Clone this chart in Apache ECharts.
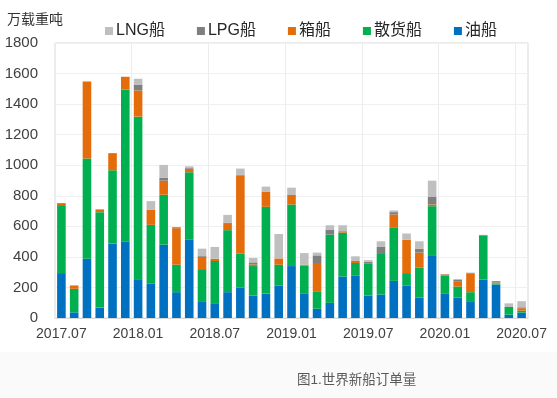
<!DOCTYPE html>
<html>
<head>
<meta charset="utf-8">
<script src="https://cdn.jsdelivr.net/npm/echarts@6/dist/echarts.min.js"></script>
<style>
  html, body { margin: 0; padding: 0; background: #fff; }
  #chart { width: 557px; height: 398px; }
</style>
</head>
<body>
<div id="chart"></div>
<script>
// months on the x axis
var months = [
  "2017.07", "2017.08", "2017.09", "2017.10", "2017.11", "2017.12",
  "2018.01", "2018.02", "2018.03", "2018.04", "2018.05", "2018.06",
  "2018.07", "2018.08", "2018.09", "2018.10", "2018.11", "2018.12",
  "2019.01", "2019.02", "2019.03", "2019.04", "2019.05", "2019.06",
  "2019.07", "2019.08", "2019.09", "2019.10", "2019.11", "2019.12",
  "2020.01", "2020.02", "2020.03", "2020.04", "2020.05", "2020.06",
  "2020.07"
];
var yTicks = [0, 200, 400, 600, 800, 1000, 1200, 1400, 1600, 1800];

// 万载重吨, per ship type
var oil = [294, 37, 388, 68, 487, 502, 254, 224, 480, 169, 515, 105, 92, 169, 200, 147, 160, 213, 340, 158, 61, 99, 272, 276, 147, 154, 243, 211, 134, 406, 158, 134, 110, 252, 219, 22, 35];
var bulk = [445, 154, 656, 625, 480, 994, 1064, 386, 327, 180, 439, 215, 281, 406, 223, 193, 568, 136, 403, 184, 110, 447, 287, 84, 208, 265, 347, 83, 197, 326, 120, 72, 59, 287, 7, 50, 13];
var container = [13, 22, 504, 18, 112, 83, 171, 98, 92, 239, 22, 81, 15, 41, 509, 11, 97, 41, 62, 7, 189, 0, 9, 13, 0, 0, 88, 219, 97, 11, 7, 35, 123, 0, 6, 0, 16];
var lpg = [0, 0, 0, 0, 0, 0, 39, 0, 18, 6, 5, 8, 0, 7, 7, 13, 0, 0, 0, 0, 50, 33, 0, 0, 13, 46, 15, 0, 26, 49, 2, 11, 4, 5, 9, 0, 6];
var lng = [0, 0, 0, 0, 0, 0, 38, 57, 85, 0, 12, 45, 77, 52, 39, 29, 35, 160, 48, 76, 18, 28, 39, 31, 11, 37, 11, 40, 48, 107, 0, 0, 0, 0, 0, 24, 40];

var fontFamily = '"Liberation Sans", Arial, "Noto Sans CJK SC", sans-serif';

function makeSeries(name, data, color) {
  return {
    name: name,
    type: "bar",
    stack: "total",
    data: data,
    barWidth: 8.6,
    itemStyle: { color: color },
    emphasis: { disabled: true }
  };
}

var myChart = echarts.init(document.getElementById("chart"));
var option = {
  animation: false,
  textStyle: { fontFamily: fontFamily },
  grid: {
    left: 55,
    right: 29,
    top: 43,
    bottom: 80,
    show: true,
    borderColor: "#d9d9d9",
    borderWidth: 1
  },
  legend: {
    data: ["LNG船", "LPG船", "箱船", "散货船", "油船"],
    left: 100,
    top: 18,
    itemWidth: 8,
    itemHeight: 8,
    itemGap: 32,
    icon: "rect",
    textStyle: { fontSize: 16, color: "#262626", fontFamily: fontFamily, padding: [0, 0, 0, -2] }
  },
  graphic: [
    {
      type: "rect",
      z: -10,
      shape: { x: 0, y: 352, width: 557, height: 46 },
      style: { fill: "#fafafa" }
    },
    {
      type: "text",
      left: 7,
      top: 13,
      style: { text: "万载重吨", fontSize: 14, fill: "#333", fontFamily: fontFamily }
    },
    {
      type: "text",
      left: 297,
      top: 374,
      style: { text: "图1.世界新船订单量", fontSize: 13.5, fill: "#595959", fontFamily: fontFamily }
    }
  ],
  xAxis: {
    type: "category",
    data: months,
    axisLine: { show: true, lineStyle: { color: "#d9d9d9" } },
    axisTick: { show: false, interval: 5 },
    axisLabel: { interval: 5, fontSize: 14, color: "#404040", margin: 9 },
    splitLine: { show: true, interval: 5, lineStyle: { color: "#ececec" } }
  },
  yAxis: {
    type: "value",
    min: yTicks[0],
    max: yTicks[yTicks.length - 1],
    interval: 200,
    axisLine: { show: false },
    axisTick: { show: false },
    axisLabel: {
      fontSize: 15,
      color: "#404040",
      margin: 17,
      formatter: function (v) { return String(v); }
    },
    splitLine: { lineStyle: { color: "#f0f0f0" } }
  },
  series: [
    makeSeries("油船", oil, "#0070C0"),
    makeSeries("散货船", bulk, "#00B050"),
    makeSeries("箱船", container, "#E46C0A"),
    makeSeries("LPG船", lpg, "#7F7F7F"),
    makeSeries("LNG船", lng, "#BFBFBF")
  ]
};
myChart.setOption(option);
</script>
</body>
</html>
